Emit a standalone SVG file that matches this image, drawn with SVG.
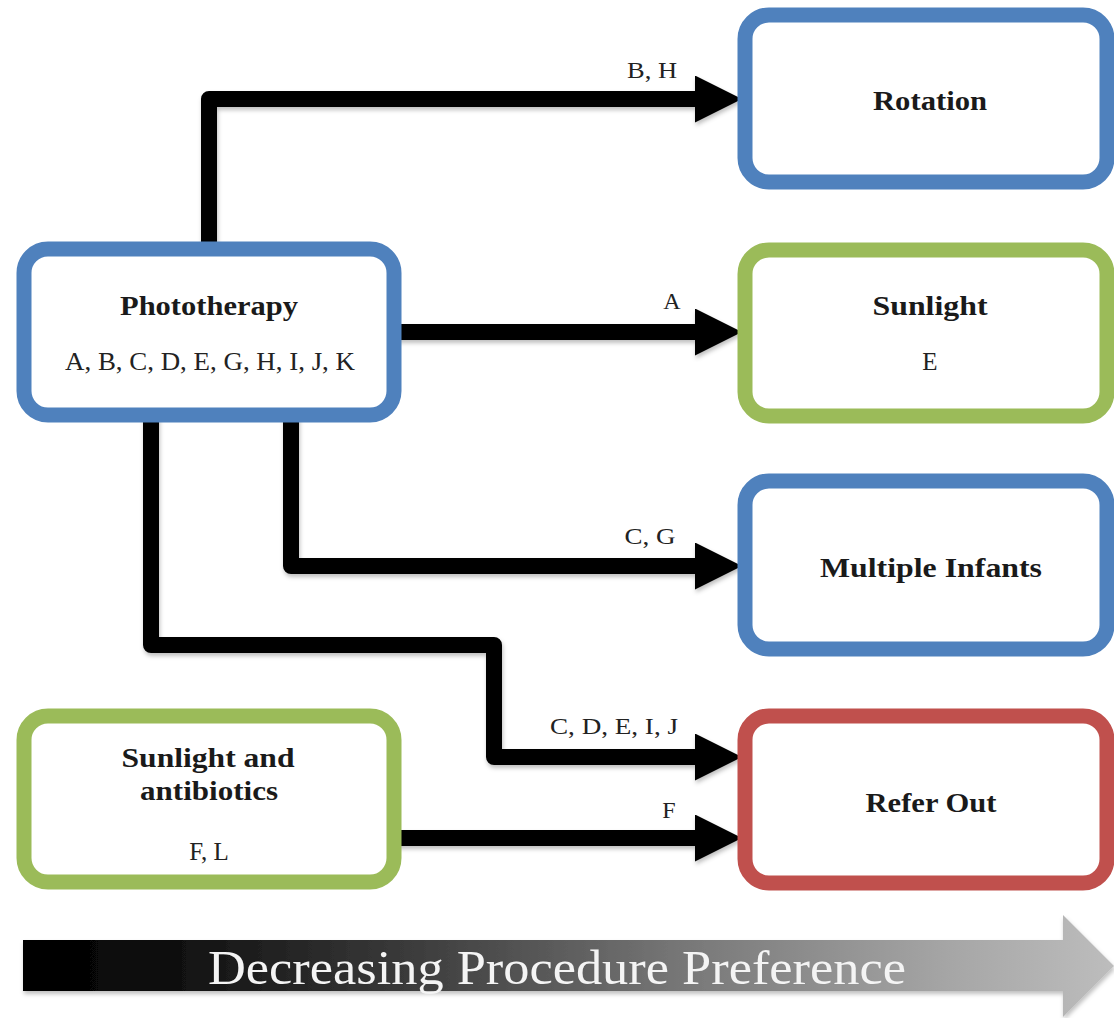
<svg xmlns="http://www.w3.org/2000/svg" width="1114" height="1018" viewBox="0 0 1114 1018">
<defs>
<style>
.box{fill:#fff;stroke-width:15}
.blue{stroke:#4f81bd}
.green{stroke:#9bbb59}
.red{stroke:#c0504d}
.title{font-family:"Liberation Serif","DejaVu Serif",serif;font-weight:bold;font-size:27px;fill:#1a1a1a;text-anchor:middle}
.codes{font-family:"Liberation Serif","DejaVu Serif",serif;font-size:25px;fill:#222;text-anchor:middle}
.lbl{font-family:"Liberation Serif","DejaVu Serif",serif;font-size:24px;fill:#222;text-anchor:middle}
.conn{fill:none;stroke:#000;stroke-width:16;stroke-linejoin:round;marker-end:url(#ah);filter:url(#sh)}
.banner{font-family:"Liberation Serif","DejaVu Serif",serif;font-size:48px;fill:#f4f4f4}
</style>
<marker id="ah" markerUnits="userSpaceOnUse" markerWidth="48" markerHeight="48" refX="5" refY="23.5" orient="auto">
<path d="M0,0 L47,23.5 L0,47 Z" fill="#000"/>
</marker>
<filter id="sh" filterUnits="userSpaceOnUse" x="0" y="0" width="1114" height="1018">
<feDropShadow dx="1" dy="3" stdDeviation="2" flood-color="#000" flood-opacity="0.25"/>
</filter>
<linearGradient id="grad" gradientUnits="userSpaceOnUse" x1="23" y1="0" x2="1114" y2="0">
<stop offset="0" stop-color="#000"/>
<stop offset="0.12" stop-color="#0c0c0c"/>
<stop offset="0.35" stop-color="#3a3a3a"/>
<stop offset="0.6" stop-color="#767676"/>
<stop offset="0.85" stop-color="#a6a6a6"/>
<stop offset="1" stop-color="#bdbdbd"/>
</linearGradient>
</defs>
<rect width="1114" height="1018" fill="#fff"/>

<g id="connectors">
<path class="conn" d="M209,246 L209,99 L700,99"/>
<path class="conn" d="M396,332 L700,332"/>
<path class="conn" d="M291,410 L291,566 L700,566"/>
<path class="conn" d="M151,414 L151,645 L494,645 L494,757 L700,757"/>
<path class="conn" d="M396,838 L700,838"/>
<text class="lbl" x="652" y="78" textLength="50" lengthAdjust="spacingAndGlyphs">B, H</text>
<text class="lbl" x="672" y="309">A</text>
<text class="lbl" x="650" y="544" textLength="51" lengthAdjust="spacingAndGlyphs">C, G</text>
<text class="lbl" x="614" y="734" textLength="128" lengthAdjust="spacingAndGlyphs">C, D, E, I, J</text>
<text class="lbl" x="669" y="818">F</text>
</g>

<g id="node-phototherapy">
<rect class="box blue" x="24" y="249" width="370" height="166" rx="24"/>
<text class="title" x="209" y="315" textLength="178" lengthAdjust="spacingAndGlyphs">Phototherapy</text>
<text class="codes" x="210" y="370" textLength="290" lengthAdjust="spacingAndGlyphs">A, B, C, D, E, G, H, I, J, K</text>
</g>

<g id="node-rotation">
<rect class="box blue" x="745" y="15" width="362" height="167" rx="24"/>
<text class="title" x="930" y="110" textLength="114" lengthAdjust="spacingAndGlyphs">Rotation</text>
</g>

<g id="node-sunlight">
<rect class="box green" x="745" y="250" width="362" height="166" rx="24"/>
<text class="title" x="930" y="315" textLength="115" lengthAdjust="spacingAndGlyphs">Sunlight</text>
<text class="codes" x="930" y="370">E</text>
</g>

<g id="node-multiple-infants">
<rect class="box blue" x="745" y="481" width="362" height="168" rx="24"/>
<text class="title" x="931" y="577" textLength="222" lengthAdjust="spacingAndGlyphs">Multiple Infants</text>
</g>

<g id="node-sunlight-antibiotics">
<rect class="box green" x="24" y="716" width="370" height="166" rx="24"/>
<text class="title" x="208" y="767" textLength="173" lengthAdjust="spacingAndGlyphs">Sunlight and</text>
<text class="title" x="209" y="800" textLength="138" lengthAdjust="spacingAndGlyphs">antibiotics</text>
<text class="codes" x="209" y="860">F, L</text>
</g>

<g id="node-refer-out">
<rect class="box red" x="745" y="716" width="362" height="167" rx="24"/>
<text class="title" x="931" y="812" textLength="131" lengthAdjust="spacingAndGlyphs">Refer Out</text>
</g>

<g id="preference-arrow">
<path d="M23,940 L1063,940 L1063,915 L1114,966 L1063,1017 L1063,991 L23,991 Z" fill="url(#grad)" filter="url(#sh)"/>
<text class="banner" x="208" y="984" textLength="698" lengthAdjust="spacingAndGlyphs">Decreasing Procedure Preference</text>
</g>
</svg>
